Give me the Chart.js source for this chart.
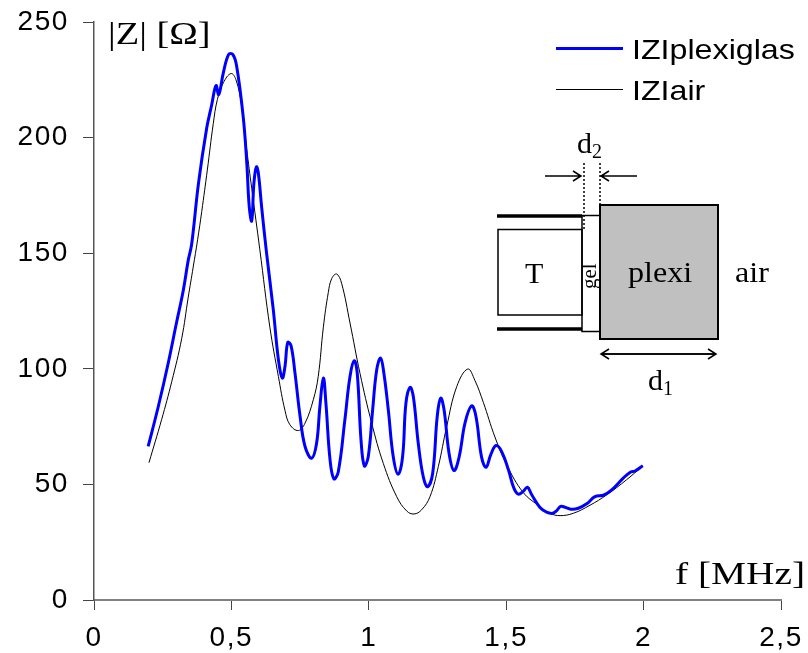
<!DOCTYPE html>
<html>
<head>
<meta charset="utf-8">
<title>|Z| vs f</title>
<script src="https://cdn.jsdelivr.net/npm/chart.js@4"></script>
<style>
  body { margin: 0; background: #fff; }
  canvas { display: block; }
</style>
</head>
<body>
<canvas id="chart" width="808" height="653"></canvas>
<script>
// values
const plexiF = [0.197, 0.234, 0.27, 0.30, 0.325, 0.343, 0.3555, 0.38, 0.41, 0.428, 0.444, 0.454, 0.4706, 0.49, 0.505, 0.519, 0.543, 0.556, 0.565, 0.574,
  0.582, 0.591, 0.598, 0.61, 0.628, 0.6525, 0.671, 0.685, 0.695, 0.705, 0.717, 0.7315, 0.75, 0.768, 0.792, 0.81, 0.822, 0.8346, 0.844, 0.859,
  0.873, 0.889, 0.913, 0.9316, 0.947, 0.958, 0.9716, 0.9836, 0.998, 1.014, 1.0288, 1.043, 1.055, 1.071, 1.089, 1.107, 1.123, 1.135, 1.15, 1.162,
  1.18, 1.198, 1.214, 1.2325, 1.249, 1.2615, 1.274, 1.292, 1.31, 1.329, 1.35, 1.374, 1.39, 1.41, 1.4265, 1.4436, 1.463, 1.4836, 1.508, 1.528,
  1.544, 1.562, 1.577, 1.593, 1.623, 1.647, 1.669, 1.684, 1.698, 1.714, 1.735, 1.7625, 1.793, 1.823, 1.854, 1.884, 1.926, 1.953, 1.969, 1.997];
const plexiZ = [66.4, 83.7, 102.4, 119.8, 134, 147, 154, 180, 204, 214, 222.5, 218.6, 228, 236, 236, 231, 209, 189, 170, 164,
  180.4, 187.3, 184.7, 170, 150, 125.5, 104, 96, 101, 111.4, 110, 98, 79.4, 66.4, 61.3, 67.8, 83.7, 96, 85, 60.6,
  52.4, 55.5, 78, 96.7, 103.5, 98, 69.3, 58, 62, 82.2, 99.6, 104.6, 98, 82.2, 62, 54.4, 62, 85, 92, 88,
  67.8, 53.4, 49, 54.8, 79.4, 87.3, 82.2, 63.5, 56, 62, 76.5, 84, 79.4, 62, 57.4, 62.8, 66.8, 64.2, 56.3, 48.4,
  45.8, 47, 48.8, 45.5, 40, 38, 37.5, 38.7, 40.5, 40.1, 39.3, 39.7, 41.6, 44.7, 45.3, 47.6, 52.7, 55.4, 55.8, 58.1];

const airF = [0.2, 0.246, 0.283, 0.319, 0.343, 0.361, 0.377, 0.392, 0.4124, 0.434, 0.449, 0.4706, 0.4985, 0.5167, 0.5375, 0.5556, 0.574, 0.6035, 0.64, 0.671,
  0.695, 0.713, 0.7435, 0.768, 0.798, 0.816, 0.8346, 0.8526, 0.865, 0.883, 0.901, 0.9316, 0.968, 1.0105, 1.053, 1.1015, 1.138, 1.1645, 1.192, 1.2227,
  1.253, 1.2834, 1.32, 1.36, 1.386, 1.4167, 1.459, 1.5018, 1.562, 1.623, 1.659, 1.696, 1.744, 1.805, 1.866, 1.938, 1.997];
const airZ = [59.4, 78, 94.5, 113, 131, 144, 155.8, 168, 186, 206, 216.5, 223.7, 227.7, 225, 213.6, 195, 178, 151.5, 118, 96.7,
  82, 75.8, 73.3, 76.5, 86.6, 96.7, 118, 133, 139, 141, 137, 119.8, 98, 76.5, 59, 44.7, 38.5, 37.2, 39, 44.7,
  57.7, 75, 92.3, 99.9, 95, 85.5, 70.5, 58.5, 46.5, 40.4, 37.5, 36.5, 37.5, 41, 45.5, 52, 58];

const xTicks = ['0', '0,5', '1', '1,5', '2', '2,5'];
const seriesNames = ['IZIplexiglas', 'IZIair'];

const SANS = '"Liberation Sans", Arial, sans-serif';
const SERIF = '"Liberation Serif", "Times New Roman", serif';

// the original lettering is a bit wider than the fonts, hence the stretch
function text(ctx, str, x, y, size, family, stretch = 1) {
  ctx.save();
  ctx.translate(x, y);
  ctx.scale(stretch, 1);
  ctx.font = size + 'px ' + family;
  ctx.fillText(str, 0, 0);
  ctx.restore();
}

function arrow(ctx, x1, x2, y) {
  const dir = x2 > x1 ? 1 : -1;
  ctx.beginPath();
  ctx.moveTo(x1, y);
  ctx.lineTo(x2, y);
  ctx.moveTo(x2 - dir * 8, y - 5);
  ctx.lineTo(x2, y);
  ctx.lineTo(x2 - dir * 8, y + 5);
  ctx.stroke();
}

// tick labels go through the library, so they get letter spacing instead
const spacing = {
  id: 'spacing',
  beforeDraw(chart) {
    chart.ctx.letterSpacing = '1.6px';
  }
};

const overlay = {
  id: 'overlay',
  afterDraw(chart) {
    const ctx = chart.ctx;
    ctx.save();
    ctx.letterSpacing = '0px';
    ctx.fillStyle = '#000';
    ctx.textAlign = 'left';
    ctx.textBaseline = 'alphabetic';

    // axis titles
    text(ctx, '|Z| [Ω]', 108, 44, 31, SERIF, 1.24);
    text(ctx, 'f [MHz]', 675, 584, 31, SERIF, 1.27);

    // legend
    chart.data.datasets.forEach((ds, i) => {
      const y = i === 0 ? 48.5 : 89.5;
      ctx.strokeStyle = ds.borderColor;
      ctx.lineWidth = ds.borderWidth;
      ctx.beginPath();
      ctx.moveTo(556, y);
      ctx.lineTo(623, y);
      ctx.stroke();
      ctx.fillStyle = '#000';
      text(ctx, ds.label, 632, y + 10.5, 28, SANS, 1.15);
    });

    // transducer sketch
    ctx.strokeStyle = '#000';
    ctx.fillStyle = '#c0c0c0';
    ctx.lineWidth = 2;
    ctx.fillRect(600, 205, 118, 134);
    ctx.strokeRect(600, 205, 118, 134);
    ctx.lineWidth = 1.5;
    ctx.strokeRect(582, 215.5, 18, 116);
    ctx.strokeRect(498, 229.5, 84, 85.5);
    ctx.lineWidth = 3.5;
    ctx.beginPath();
    ctx.moveTo(497, 216);
    ctx.lineTo(582, 216);
    ctx.moveTo(497, 329);
    ctx.lineTo(582, 329);
    ctx.stroke();

    ctx.lineWidth = 1.5;
    ctx.setLineDash([2, 2]);
    ctx.beginPath();
    ctx.moveTo(584, 163);
    ctx.lineTo(584, 229);
    ctx.moveTo(600, 163);
    ctx.lineTo(600, 205);
    ctx.stroke();
    ctx.setLineDash([]);

    arrow(ctx, 545, 581, 176);
    arrow(ctx, 637, 601, 176);
    arrow(ctx, 601, 716, 354);
    arrow(ctx, 716, 601, 354);

    ctx.fillStyle = '#000';
    text(ctx, 'd', 577, 153, 30, SERIF);
    text(ctx, '2', 592, 158, 20, SERIF);
    text(ctx, 'T', 525, 283, 30, SERIF);
    text(ctx, 'plexi', 628, 282, 30, SERIF, 1.07);
    text(ctx, 'air', 735, 282, 30, SERIF, 1.07);
    text(ctx, 'd', 648, 390, 30, SERIF);
    text(ctx, '1', 663, 395, 20, SERIF);

    ctx.save();
    ctx.translate(596, 289);
    ctx.rotate(-Math.PI / 2);
    text(ctx, 'gel', 0, 0, 21, SERIF);
    ctx.restore();

    ctx.restore();
  }
};

const chart = new Chart(document.getElementById('chart').getContext('2d'), {
  type: 'line',
  data: {
    datasets: [
      {
        label: seriesNames[0],
        data: plexiF.map((f, i) => ({ x: f, y: plexiZ[i] })),
        borderColor: '#0000ff',
        borderWidth: 3,
        tension: 0.4,
        pointRadius: 0
      },
      {
        label: seriesNames[1],
        data: airF.map((f, i) => ({ x: f, y: airZ[i] })),
        borderColor: '#000000',
        borderWidth: 1,
        tension: 0.4,
        pointRadius: 0
      }
    ]
  },
  options: {
    responsive: false,
    animation: false,
    layout: { padding: { top: 22, right: 27, left: 0, bottom: 0 } },
    plugins: {
      legend: { display: false },
      tooltip: { enabled: false }
    },
    scales: {
      x: {
        type: 'linear',
        min: 0,
        max: 2.5,
        afterFit(scale) {
          scale.height = 53;
          scale.paddingLeft = 0;
          scale.paddingRight = 0;
        },
        grid: { drawOnChartArea: false, tickLength: 10, color: '#444', lineWidth: 1 },
        border: { color: '#808080', width: 2 },
        ticks: {
          stepSize: 0.5,
          maxRotation: 0,
          padding: 11,
          color: '#000',
          font: { family: SANS, size: 28 },
          callback: (v, i) => xTicks[i]
        }
      },
      y: {
        min: 0,
        max: 250,
        afterFit(scale) {
          scale.width = 94;
          scale.paddingTop = 0;
          scale.paddingBottom = 0;
        },
        grid: { drawOnChartArea: false, tickLength: 11, color: '#444', lineWidth: 1 },
        border: { color: '#555', width: 1.5 },
        ticks: {
          stepSize: 50,
          padding: 14,
          color: '#000',
          font: { family: SANS, size: 28 }
        }
      }
    }
  },
  plugins: [spacing, overlay]
});
</script>
</body>
</html>
